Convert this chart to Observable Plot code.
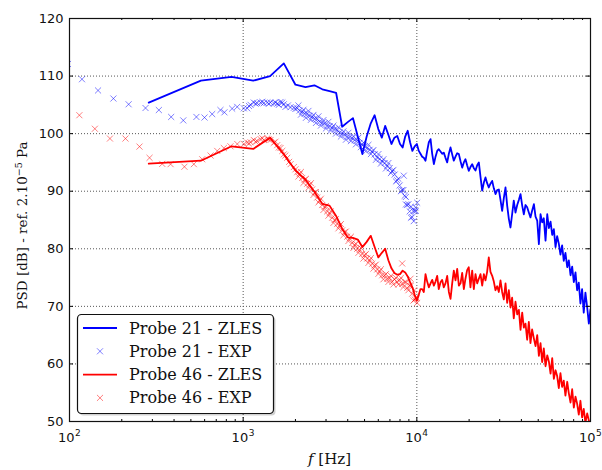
<!DOCTYPE html>
<html>
<head>
<meta charset="utf-8">
<script src="https://cdn.jsdelivr.net/npm/d3@7"></script>
<script src="https://cdn.jsdelivr.net/npm/@observablehq/plot@0.6"></script>
<style>
  html, body { margin: 0; padding: 0; background: #fff; }
  #chart svg { display: block; }
</style>
</head>
<body>
<div id="chart"></div>
<script>
// ---- ZLES spectra: shared frequency bins (Hz) ----
const zlesFreq = [
  286, 571, 857, 1143, 1429, 1714, 2000, 2286, 2571, 2857,
  3143, 3429, 3714, 4000, 4286, 4571, 4857, 5143, 5429, 5714,
  6000, 6286, 6571, 6857, 7143, 7429, 7714, 8000, 8286, 8571,
  8857, 9143, 9429, 9714, 10000,
  10265, 10494, 10735, 10970, 11220, 11470, 11725, 11995, 12260, 12535,
  12815, 13100, 13376, 13690, 13995, 14290, 14625, 14955, 15290, 15630,
  15980, 16330, 16700, 17075, 17460, 17850, 18245, 18650, 19055, 19480,
  19910, 20360, 20830, 21290, 21770, 22260, 22750, 23260, 23790, 24320,
  24850, 25400, 25960, 26550, 27160, 27760, 28380, 29020, 29660, 30320,
  30990, 31690, 32410, 33130, 33870, 34610, 35380, 36160, 36990, 37840,
  38690, 39550, 40430, 41310, 42240, 43180, 44140, 45110, 46110, 47210,
  48250, 49340, 50440, 51550, 52700, 53830, 55090, 56360, 57600, 58880,
  60190, 61520, 62910, 64270, 65700, 67140, 68640, 70150, 71730, 73450,
  75030, 76740, 78420, 80170, 81960, 83750, 85620, 87500, 89450, 91420,
  93480, 95720, 97840, 100000
];

// Probe 21 - ZLES (dB)
const zles21 = [
  105.4, 109.2, 109.85, 109.2, 110.0, 112.2, 108.5, 108.1, 108.4, 107.7,
  107.4, 107.1, 101.2, 102.0, 102.7, 99.5, 96.45, 99.5, 101.8, 103.2,
  100.8, 99.3, 101.35, 99.8, 98.2, 99.3, 99.6, 98.2, 97.6, 99.5,
  100.5, 98.5, 97.0, 97.8, 98.2,
  97.0, 96.5, 96.0, 95.8, 95.3, 97.0, 98.5, 99.05, 96.5, 94.7,
  96.0, 97.0, 97.3, 96.9, 96.5, 96.7, 95.8, 95.0, 96.5, 97.6,
  96.4, 95.3, 96.0, 96.6, 96.45, 95.2, 94.1, 95.0, 95.55, 94.5,
  93.55, 94.2, 94.7, 94.0, 93.6, 94.5, 95.0, 92.5, 90.1, 91.5,
  92.4, 91.4, 90.65, 91.3, 91.8, 90.5, 89.5, 90.2, 90.3, 88.5,
  86.6, 88.8, 90.65, 87.5, 85.2, 83.7, 86.0, 88.35, 86.3, 87.6,
  88.5, 89.5, 87.5, 86.0, 87.6, 87.2, 86.3, 85.45, 86.6, 87.75,
  85.6, 84.9, 80.8, 86.0, 84.6, 85.3, 81.4, 86.0, 83.6, 84.7,
  82.4, 83.4, 80.3, 82.2, 80.9, 79.0, 80.6, 77.9, 79.3, 76.8,
  78.0, 75.4, 76.9, 74.2, 75.9, 72.8, 74.1, 70.5, 73.0, 68.9,
  72.4, 69.8, 67.0, 69.5
];

// Probe 46 - ZLES (dB)
const zles46 = [
  94.8, 95.3, 97.8, 97.35, 99.3, 96.4, 93.6, 92.0, 89.9, 87.8,
  87.5, 85.7, 83.5, 82.0, 81.9, 81.6, 80.3, 81.2, 82.25, 80.3,
  78.5, 79.3, 80.0, 78.0, 76.6, 75.8, 75.5, 75.6, 76.2, 75.9,
  75.2, 74.2, 73.3, 72.0, 71.0,
  72.0, 73.0, 73.0, 72.5, 75.6, 74.3, 73.3, 74.0, 74.6, 73.6,
  74.3, 75.3, 73.0, 74.2, 74.6, 73.3, 74.0, 75.3, 72.5, 71.3,
  74.0, 76.2, 74.5, 76.5, 73.6, 74.0, 75.8, 73.0, 74.8, 76.3,
  76.8, 73.3, 76.2, 73.0, 75.6, 74.0, 74.8, 75.6, 73.6, 75.6,
  74.5, 76.0, 78.5, 76.0, 75.3, 74.3, 72.8, 73.5, 72.5, 74.5,
  72.5, 71.2, 74.0, 70.6, 72.8, 69.8, 71.5, 67.9, 70.8, 68.6,
  69.4, 65.9, 68.9, 66.3, 67.0, 64.2, 67.3, 63.6, 66.0, 64.4,
  63.1, 65.0, 61.4, 63.6, 60.3, 62.7, 59.6, 61.5, 60.4, 58.3,
  61.0, 57.4, 58.9, 57.9, 55.8, 58.4, 56.0, 57.1, 54.5, 56.9,
  54.9, 53.3, 55.6, 52.4, 54.3, 53.1, 51.2, 53.6, 50.7, 52.2,
  49.8, 51.4, 50.2, 48.9
];

// ---- Measurements (EXP) ----
// dense measured bins above 2 kHz (Hz), shared by both probes
const expBandFreq = [
  2047, 2116, 2187, 2261, 2337, 2416, 2497, 2581, 2668, 2758,
  2851, 2947, 3046, 3149, 3255, 3365, 3478, 3595, 3716, 3841,
  3971, 4105, 4243, 4386, 4534, 4687, 4845, 5008, 5177, 5351,
  5532, 5718, 5911, 6110, 6316, 6529, 6749, 6976, 7211, 7454,
  7705, 7965, 8233, 8511, 8798, 9094, 9401, 9718, 10045
];
const expBandFreq2 = [
  2081, 2151, 2224, 2299, 2376, 2456, 2539, 2624, 2713, 2804,
  2899, 2996, 3097, 3202, 3310, 3421, 3536, 3655, 3778, 3906,
  4037, 4174, 4314, 4460, 4610, 4765, 4926, 5092, 5263, 5441,
  5624, 5814, 6010, 6212, 6422, 6638, 6862, 7093, 7332, 7579,
  7834, 8098, 8371, 8653, 8945, 9246, 9558, 9880
];

// Probe 21 - EXP
const exp21LowFreq = [
  98, 118, 146, 179, 219, 274, 327, 385, 452, 538,
  599, 663, 740, 780, 864, 924, 1009, 1055, 1103, 1151,
  1204, 1259, 1316, 1375, 1436, 1500, 1570, 1641, 1714, 1753,
  1875, 1959
];
const exp21LowDb = [
  112.1, 109.45, 107.5, 106.1, 105.1, 104.45, 104.1, 102.9, 102.3, 102.9,
  102.8, 103.4, 104.1, 103.7, 104.35, 104.65, 104.4, 104.4, 105.0, 105.4,
  105.3, 105.4, 105.3, 105.4, 105.4, 105.3, 105.2, 105.5, 105.1, 104.65,
  104.6, 104.5
];
const exp21BandDb = [
  104.4, 104.0, 103.8, 103.5, 103.4, 103.1, 102.9, 102.6, 102.5, 102.1,
  101.9, 101.8, 101.4, 101.3, 101.0, 100.8, 100.6, 100.2, 100.0, 99.8,
  99.5, 99.4, 99.2, 98.9, 98.8, 98.4, 98.1, 97.8, 97.5, 97.2,
  96.9, 96.4, 95.9, 95.6, 95.2, 94.9, 94.4, 94.0, 93.5, 92.9,
  91.9, 91.0, 90.2, 89.2, 87.6, 86.5, 85.5, 86.6, 88.0
];
const exp21BandDb2 = [
  104.9, 103.3, 104.15, 102.75, 103.95, 102.4, 103.25, 101.85, 103.0, 101.4,
  102.35, 100.9, 102.05, 100.55, 101.4, 100.0, 101.1, 99.5, 100.4, 98.95,
  100.15, 98.7, 99.55, 98.15, 99.3, 97.65, 98.45, 96.95, 98.05, 96.45,
  97.15, 95.45, 96.45, 94.8, 95.55, 93.95, 94.9, 93.15, 93.7, 91.7,
  92.15, 90.0, 90.2, 87.7, 87.75, 85.4, 86.55, 86.6
];
const exp21ExtraFreq = [1080, 1180, 1290, 1405, 1535, 1605, 1680, 1810, 2000, 8410, 8650, 9250, 9600, 9820];
const exp21ExtraDb = [104.8, 105.2, 105.5, 105.2, 105.4, 105.0, 105.4, 104.9, 104.3, 92.7, 89.0, 87.3, 84.8, 87.2];

// Probe 46 - EXP
const exp46LowFreq = [
  114, 140, 171, 210, 253, 289, 342, 382, 459, 520,
  581, 649, 709, 774, 845, 925, 1009, 1055, 1103, 1151,
  1204, 1259, 1316, 1375, 1436, 1500, 1570, 1641, 1714, 1794,
  1875, 1959
];
const exp46LowDb = [
  103.2, 100.85, 99.15, 99.15, 97.75, 95.8, 94.75, 94.7, 94.25, 94.7,
  95.55, 96.2, 97.0, 97.5, 97.8, 98.2, 98.2, 98.45, 98.5, 98.9,
  98.7, 99.05, 98.9, 99.15, 98.9, 98.4, 98.0, 97.5, 96.4, 95.8,
  94.7, 94.2
];
const exp46BandDb = [
  93.3, 93.0, 92.3, 92.0, 91.3, 91.1, 90.3, 89.8, 88.9, 88.4,
  87.6, 87.3, 86.5, 86.2, 85.4, 85.0, 84.3, 84.0, 83.2, 82.9,
  82.1, 81.8, 81.0, 80.7, 80.0, 79.8, 79.1, 78.9, 78.3, 78.0,
  77.4, 77.1, 76.4, 76.1, 75.4, 75.4, 74.8, 74.9, 74.3, 74.7,
  74.2, 74.6, 73.9, 74.2, 73.2, 73.6, 72.2, 71.2, 70.6
];
const exp46BandDb2 = [
  92.55, 93.35, 91.45, 92.15, 90.6, 91.4, 89.35, 89.85, 88.05, 88.7,
  86.75, 87.4, 85.75, 86.5, 84.5, 85.15, 83.55, 84.3, 82.35, 83.0,
  81.35, 82.1, 80.15, 80.85, 79.3, 80.15, 78.3, 79.1, 77.55, 78.4,
  76.55, 77.25, 75.65, 76.45, 74.7, 75.6, 74.25, 75.3, 73.8, 74.95,
  73.8, 74.95, 73.35, 74.2, 72.8, 73.6, 71.0, 71.4
];
const exp46ExtraFreq = [1080, 1180, 1290, 1405, 1535, 1605, 1680, 1750, 1840, 2000, 8236, 9200, 9650, 9900];
const exp46ExtraDb = [98.3, 98.6, 99.2, 99.0, 98.6, 97.6, 97.0, 96.2, 95.1, 93.8, 77.45, 74.8, 72.8, 71.6];

// ---- Axis ticks ----
const yTicks = [50, 60, 70, 80, 90, 100, 110, 120];
const yGrid = [60, 70, 80, 90, 100, 110];
const xDecades = [100, 1000, 10000, 100000];
const xExponents = ["2", "3", "4", "5"];
const xGrid = [1000, 10000];
const minorMultiples = [2, 3, 4, 5, 6, 7, 8, 9];

const legendItems = [
  {label: "Probe 21 - ZLES", color: "#0000ff", kind: "line"},
  {label: "Probe 21 - EXP", color: "#0000ff", kind: "cross"},
  {label: "Probe 46 - ZLES", color: "#ff0000", kind: "line"},
  {label: "Probe 46 - EXP", color: "#ff0000", kind: "cross"}
];

// ---- tables ----
const zles = zlesFreq.map((f, i) => ({f, p21: zles21[i], p46: zles46[i]}));
const toRows = (fs, ds) => fs.map((f, i) => ({f, db: ds[i]}));
const exp21 = [
  ...toRows(exp21LowFreq, exp21LowDb),
  ...toRows(expBandFreq, exp21BandDb),
  ...toRows(expBandFreq2, exp21BandDb2),
  ...toRows(exp21ExtraFreq, exp21ExtraDb)
];
const exp46 = [
  ...toRows(exp46LowFreq, exp46LowDb),
  ...toRows(expBandFreq, exp46BandDb),
  ...toRows(expBandFreq2, exp46BandDb2),
  ...toRows(exp46ExtraFreq, exp46ExtraDb)
];
const xMinor = xDecades.slice(0, 3).flatMap(d => minorMultiples.map(m => m * d));

// ---- layout ----
const W = 602, H = 470;
const M = {top: 18, right: 12, bottom: 49, left: 69};
const frameW = W - M.left - M.right;
const frameH = H - M.top - M.bottom;
const majorLen = 4, minorLen = 2;
const gridStyle = {stroke: "#555", strokeWidth: 1, strokeDasharray: "1,2"};
const serif = "'DejaVu Serif', serif";
const crossR = 2.85;

const plot = Plot.plot({
  width: W,
  height: H,
  marginTop: M.top,
  marginRight: M.right,
  marginBottom: M.bottom,
  marginLeft: M.left,
  style: {fontFamily: "'DejaVu Sans', sans-serif", fontSize: "13px", background: "white", color: "black", overflow: "visible"},
  x: {type: "log", domain: [100, 100000], axis: null},
  y: {domain: [50, 120], axis: null},
  marks: [
    Plot.ruleX(xGrid, gridStyle),
    Plot.ruleY(yGrid, gridStyle),

    Plot.line(zles, {x: "f", y: "p21", stroke: "#0000ff", strokeWidth: 1.8, clip: true}),
    Plot.dot(exp21, {x: "f", y: "db", symbol: "times", r: crossR, stroke: "#0000ff", strokeOpacity: 0.5, strokeWidth: 1, clip: true}),
    Plot.line(zles, {x: "f", y: "p46", stroke: "#ff0000", strokeWidth: 1.8, clip: true}),
    Plot.dot(exp46, {x: "f", y: "db", symbol: "times", r: crossR, stroke: "#ff0000", strokeOpacity: 0.5, strokeWidth: 1, clip: true}),

    // inward ticks on all four sides
    Plot.ruleX(xGrid, {insetTop: frameH - majorLen}),
    Plot.ruleX(xGrid, {insetBottom: frameH - majorLen}),
    Plot.ruleX(xMinor, {insetTop: frameH - minorLen}),
    Plot.ruleX(xMinor, {insetBottom: frameH - minorLen}),
    Plot.ruleY(yTicks, {insetRight: frameW - majorLen}),
    Plot.ruleY(yTicks, {insetLeft: frameW - majorLen}),
    Plot.frame({stroke: "#111", strokeWidth: 1.2}),

    // tick labels
    Plot.text(yTicks, {y: d => d, frameAnchor: "left", dx: -6, textAnchor: "end", text: d => String(d), fill: "#111"}),
    Plot.text(xDecades, {x: d => d, frameAnchor: "bottom", dx: 5, dy: 11, textAnchor: "end", lineAnchor: "top", text: () => "10", fill: "#111"}),
    Plot.text(xDecades, {x: d => d, frameAnchor: "bottom", dx: 5.5, dy: 8.6, textAnchor: "start", lineAnchor: "top", fontSize: 9, text: (d, i) => xExponents[i], fill: "#111"})
  ]
});

document.getElementById("chart").appendChild(plot);

const svg = d3.select(plot);

// axis titles
const yl = svg.append("text")
  .attr("transform", `translate(27,${M.top + frameH / 2 + 6}) rotate(-90)`)
  .attr("text-anchor", "middle")
  .attr("font-family", serif)
  .attr("font-size", 13.5)
  .attr("fill", "#111");
yl.append("tspan").text("PSD [dB] - ref. 2.10");
yl.append("tspan").attr("dy", -5).attr("font-size", 9.5).text("\u22125");
yl.append("tspan").attr("dy", 5).text(" Pa");

const xl = svg.append("text")
  .attr("x", M.left + frameW / 2)
  .attr("y", 464)
  .attr("text-anchor", "middle")
  .attr("font-family", serif)
  .attr("font-size", 15)
  .attr("fill", "#111");
xl.append("tspan").attr("font-style", "italic").text("f");
xl.append("tspan").text(" [Hz]");

// legend box (lower left of the axes)
const lg = svg.append("g")
  .attr("font-family", serif)
  .attr("font-size", 16)
  .attr("text-anchor", "start")
  .attr("fill", "#111");
const box = {x: 77.5, y: 314.5, w: 196, h: 99};
lg.append("rect").attr("x", box.x + 2).attr("y", box.y + 2).attr("width", box.w).attr("height", box.h)
  .attr("rx", 4).attr("fill", "#000").attr("fill-opacity", 0.18);
lg.append("rect").attr("x", box.x).attr("y", box.y).attr("width", box.w).attr("height", box.h)
  .attr("rx", 4).attr("fill", "white").attr("stroke", "#111").attr("stroke-width", 1.2);
const crossPath = d3.symbol(d3.symbolTimes, Math.PI * crossR * crossR)();
legendItems.forEach((e, i) => {
  const cy = 328 + i * 23.3;
  if (e.kind === "line") {
    lg.append("line").attr("x1", 83).attr("x2", 117).attr("y1", cy).attr("y2", cy)
      .attr("stroke", e.color).attr("stroke-width", 1.8);
  } else {
    lg.append("path").attr("d", crossPath).attr("transform", `translate(100,${cy})`)
      .attr("fill", "none").attr("stroke", e.color).attr("stroke-opacity", 0.5).attr("stroke-width", 1);
  }
  lg.append("text").attr("x", 129).attr("y", cy + 5.5).attr("text-anchor", "start").text(e.label);
});
</script>
</body>
</html>
